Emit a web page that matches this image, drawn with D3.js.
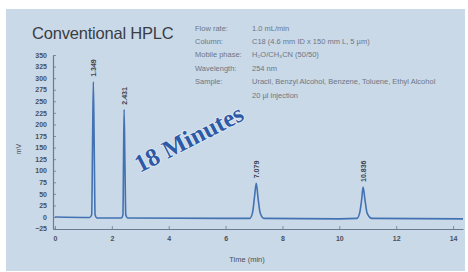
<!DOCTYPE html>
<html><head><meta charset="utf-8">
<script src="https://cdn.jsdelivr.net/npm/d3@7"></script>
<style>
html,body{margin:0;padding:0;background:#fff;}
svg{display:block;}
</style></head>
<body>
<script>
// ---- data ----
const xTicks = [0, 2, 4, 6, 8, 10, 12, 14];
const yTicks = [-25, 0, 25, 50, 75, 100, 125, 150, 175, 200, 225, 250, 275, 300, 325, 350];
const traceTime = [0, 1.22, 1.29, 1.32, 1.349, 1.38, 1.41, 1.48, 2.33, 2.39, 2.41, 2.431, 2.46, 2.49, 2.56,
  6.0, 6.85, 6.95, 7.02, 7.079, 7.14, 7.22, 7.35, 10.0, 10.62, 10.72, 10.79, 10.836, 10.90, 10.98, 11.15, 14.35];
const traceMV = [0, -1, 5, 150, 292, 150, 5, -2, -2, 5, 120, 232, 115, 5, -2,
  -3, -3, 10, 45, 73, 42, 8, -3, -4, -3, 10, 40, 65, 38, 8, -3, -4];
const peakTimes = [1.349, 2.431, 7.079, 10.836];
const peakHeights = [292, 232, 73, 65];
const peakLabels = ["1.349", "2.431", "7.079", "10.836"];
const infoKeys = ["Flow rate:", "Column:", "Mobile phase:", "Wavelength:", "Sample:", ""];
const infoValues = ["1.0 mL/min", "C18 (4.6 mm ID x 150 mm L, 5 \u00b5m)", "H\u2082O/CH\u2083CN (50/50)", "254 nm",
  "Uracil, Benzyl Alcohol, Benzene, Toluene, Ethyl Alcohol", "20 \u00b5l injection"];
const titleText = "Conventional HPLC";
const stampText = "18 Minutes";

// ---- drawing ----
const W = 468, H = 272;
const svg = d3.select("body").append("svg").attr("width", W).attr("height", H);
svg.append("rect").attr("x", 6).attr("y", 9).attr("width", 459).attr("height", 262).attr("fill", "#c9d9e8");

const x = d3.scaleLinear().domain([-0.07, 14.35]).range([53, 463]);
const y = d3.scaleLinear().domain([-25, 350]).range([228.6, 55]);

const axisColor = "#6f7890", textColor = "#4a4f5a";

// title
svg.append("text").attr("x", 32).attr("y", 39).text(titleText)
  .attr("font-family", "Liberation Sans, Arial, sans-serif").attr("font-size", 16.5)
  .attr("letter-spacing", -0.2).attr("fill", "#3a3d44");

// info block
const info = svg.append("g").attr("font-family", "Liberation Sans, Arial, sans-serif")
  .attr("font-size", 7.5).attr("fill", "#6e7684");
infoKeys.forEach((k, i) => {
  const yy = 30.5 + i * 13.4;
  info.append("text").attr("x", 195).attr("y", yy).text(k);
  info.append("text").attr("x", 252).attr("y", yy).text(infoValues[i]);
});

// y axis
const yAxis = svg.append("g").attr("transform", "translate(53,0)")
  .call(d3.axisLeft(y).tickValues(yTicks).tickSizeInner(-3).tickSizeOuter(0).tickPadding(6));
yAxis.select(".domain").attr("stroke", axisColor).attr("stroke-width", 1.2);
yAxis.selectAll(".tick line").attr("stroke", axisColor).attr("stroke-width", 0.8);
yAxis.selectAll("text").attr("font-family", "Liberation Sans, Arial, sans-serif")
  .attr("font-size", 7).attr("font-weight", "bold").attr("fill", textColor);

// x axis
const xAxis = svg.append("g").attr("transform", "translate(0,229)")
  .call(d3.axisBottom(x).tickValues(xTicks).tickSizeInner(-3).tickSizeOuter(0).tickPadding(7));
xAxis.select(".domain").attr("stroke", axisColor).attr("stroke-width", 1.2);
xAxis.selectAll(".tick line").attr("stroke", axisColor).attr("stroke-width", 0.8);
xAxis.selectAll("text").attr("font-family", "Liberation Sans, Arial, sans-serif")
  .attr("font-size", 7).attr("font-weight", "bold").attr("fill", textColor);

// axis titles
svg.append("text").attr("transform", "translate(21,149) rotate(-90)").attr("text-anchor", "middle")
  .attr("font-family", "Liberation Sans, Arial, sans-serif").attr("font-size", 7).attr("fill", textColor).text("mV");
svg.append("text").attr("x", 247).attr("y", 262).attr("text-anchor", "middle")
  .attr("font-family", "Liberation Sans, Arial, sans-serif").attr("font-size", 7.5).attr("fill", textColor).text("Time (min)");

// trace
const pts = traceTime.map((t, i) => [t, traceMV[i]]);
svg.append("path").datum(pts)
  .attr("d", d3.line().x(d => x(d[0])).y(d => y(d[1])).curve(d3.curveMonotoneX))
  .attr("fill", "none").attr("stroke", "#4372b2").attr("stroke-width", 1.6).attr("stroke-linejoin", "round");

// peak labels
peakTimes.forEach((t, i) => {
  svg.append("text")
    .attr("transform", `translate(${x(t) + 2.5},${y(peakHeights[i]) - 5}) rotate(-90)`)
    .attr("font-family", "Liberation Sans, Arial, sans-serif").attr("font-size", 7).attr("font-weight", "bold")
    .attr("fill", "#3c414c").text(peakLabels[i]);
});

// stamp
svg.append("text").attr("transform", "translate(190,141) rotate(-27)")
  .attr("text-anchor", "middle").attr("dominant-baseline", "middle")
  .attr("font-family", "Liberation Serif, Times New Roman, serif").attr("font-weight", "bold")
  .attr("font-size", 25).attr("fill", "#2d5aa6")
  .attr("stroke", "#e4ecf5").attr("stroke-width", 1.5).attr("paint-order", "stroke")
  .text(stampText);
</script>
</body></html>
